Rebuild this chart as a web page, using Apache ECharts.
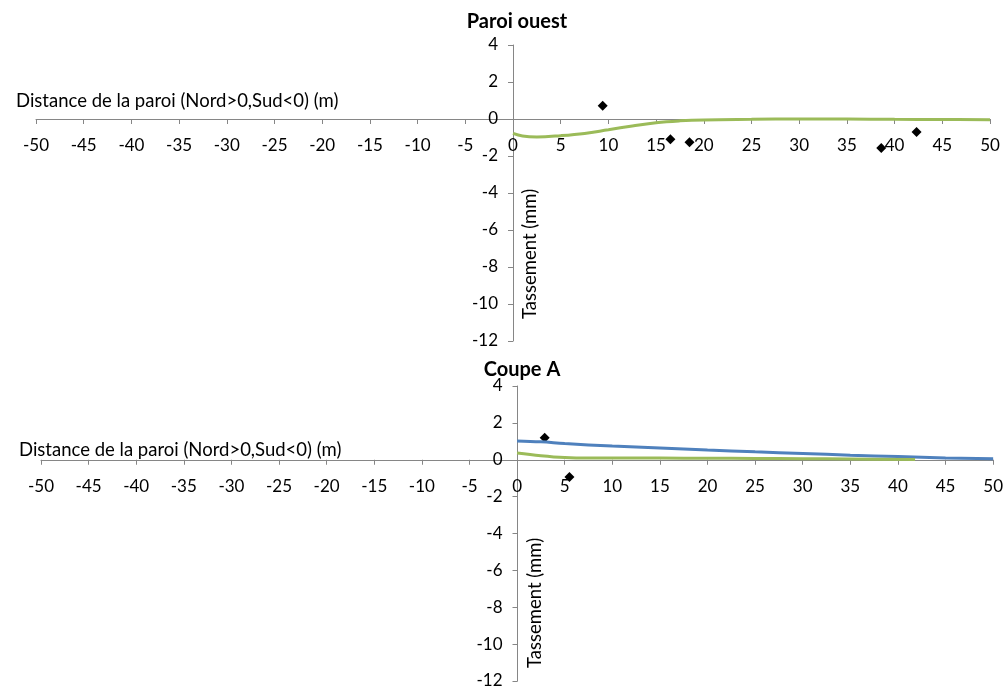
<!DOCTYPE html>
<html>
<head>
<meta charset="utf-8">
<script src="https://cdn.jsdelivr.net/npm/echarts@6/dist/echarts.min.js"></script>
<style>html,body{margin:0;padding:0;background:#fff}#c{width:1006px;height:693px}</style>
</head>
<body>
<div id="c"></div>
<script>
var xTicks = [-50, 50, 5];
var yTicks = [-12, 4, 2];
var titles = ['Paroi ouest', 'Coupe A'];
var xName = 'Distance de la paroi (Nord>0,Sud<0) (m)';
var yName = 'Tassement (mm)';

var topLineX = [0, 1, 2.5, 5, 7.5, 10, 12.5, 15, 17.5, 20, 25, 30, 35, 40, 45, 50];
var topLineY = [-0.78, -0.92, -0.97, -0.9, -0.78, -0.58, -0.38, -0.2, -0.1, -0.05, -0.02, 0, 0, -0.02, -0.03, -0.04];
var topPtsX = [9.4, 16.5, 18.5, 38.6, 42.3];
var topPtsY = [0.72, -1.1, -1.26, -1.57, -0.7];

var botBlueX = [0, 2.5, 5, 10, 15, 20, 25, 30, 35, 40, 45, 50];
var botBlueY = [1.02, 0.97, 0.88, 0.74, 0.64, 0.53, 0.43, 0.34, 0.25, 0.17, 0.1, 0.06];
var botGreenX = [0, 2.5, 5, 7.5, 10, 15, 20, 25, 30, 35, 41.8];
var botGreenY = [0.37, 0.22, 0.12, 0.09, 0.09, 0.09, 0.08, 0.07, 0.06, 0.04, 0.02];
var botPtsX = [2.9, 5.5];
var botPtsY = [1.2, -0.93];

function zip(a, b) { return a.map(function (v, i) { return [v, b[i]]; }); }

var FONT = 'Lato';
var axisLineStyle = { color: '#868686', width: 1 };

// grids
var G = [
  { left: 36, top: 45, width: 954, height: 296 },
  { left: 41, top: 386, width: 953, height: 295 }
];
function zeroOffsets(g) {
  var yZeroFromBottom = g.height * (0 - yTicks[0]) / (yTicks[1] - yTicks[0]);
  var xZeroFromLeft = g.width * (0 - xTicks[0]) / (xTicks[1] - xTicks[0]);
  return { x: -yZeroFromBottom, y: -xZeroFromLeft };
}

function xAxis(gi) {
  return {
    type: 'value', gridIndex: gi, min: xTicks[0], max: xTicks[1], interval: xTicks[2],
    position: 'bottom', offset: zeroOffsets(G[gi]).x,
    axisLine: { onZero: false, lineStyle: axisLineStyle },
    axisTick: { show: true, length: 5, lineStyle: axisLineStyle },
    axisLabel: { color: '#000', fontFamily: FONT, fontSize: 17, margin: 18 },
    splitLine: { show: false }
  };
}
function yAxis(gi) {
  return {
    type: 'value', gridIndex: gi, min: yTicks[0], max: yTicks[1], interval: yTicks[2],
    position: 'left', offset: zeroOffsets(G[gi]).y,
    axisLine: { onZero: false, lineStyle: axisLineStyle },
    axisTick: { show: true, length: 5, lineStyle: axisLineStyle },
    axisLabel: { color: '#000', fontFamily: FONT, fontSize: 17, margin: 15 },
    splitLine: { show: false }
  };
}

var green = '#9BBB59', blue = '#4F81BD';
var chart = echarts.init(document.getElementById('c'));
chart.setOption({
  animation: false,
  backgroundColor: '#fff',
  title: [
    { text: titles[0], left: 512, top: 7, textAlign: 'center', textStyle: { fontFamily: FONT, fontWeight: 'bold', fontSize: 20, color: '#000' } },
    { text: titles[1], left: 517, top: 355, textAlign: 'center', textStyle: { fontFamily: FONT, fontWeight: 'bold', fontSize: 20, color: '#000' } },
    { text: xName, left: 11, top: 87, textStyle: { fontFamily: FONT, fontWeight: 'normal', fontSize: 18.5, color: '#000' } },
    { text: xName, left: 14, top: 436, textStyle: { fontFamily: FONT, fontWeight: 'normal', fontSize: 18.5, color: '#000' } }
  ],
  graphic: [
    { type: 'text', x: 530, y: 254, rotation: Math.PI / 2, style: { text: yName, font: '18.5px Lato', fill: '#000', textAlign: 'center', textVerticalAlign: 'middle' } },
    { type: 'text', x: 535, y: 603, rotation: Math.PI / 2, style: { text: yName, font: '18.5px Lato', fill: '#000', textAlign: 'center', textVerticalAlign: 'middle' } }
  ],
  grid: G,
  xAxis: [xAxis(0), xAxis(1)],
  yAxis: [yAxis(0), yAxis(1)],
  series: [
    { type: 'line', xAxisIndex: 0, yAxisIndex: 0, data: zip(topLineX, topLineY), smooth: 0.4, showSymbol: false, lineStyle: { color: green, width: 3 } },
    { type: 'scatter', xAxisIndex: 0, yAxisIndex: 0, data: zip(topPtsX, topPtsY), symbol: 'diamond', symbolSize: 10, itemStyle: { color: '#000', opacity: 1 } },
    { type: 'line', xAxisIndex: 1, yAxisIndex: 1, data: zip(botBlueX, botBlueY), smooth: 0.4, showSymbol: false, lineStyle: { color: blue, width: 3 } },
    { type: 'line', xAxisIndex: 1, yAxisIndex: 1, data: zip(botGreenX, botGreenY), smooth: 0.4, showSymbol: false, lineStyle: { color: green, width: 3 } },
    { type: 'scatter', xAxisIndex: 1, yAxisIndex: 1, data: zip(botPtsX, botPtsY), symbol: 'diamond', symbolSize: 10, itemStyle: { color: '#000', opacity: 1 } }
  ]
});
</script>
</body>
</html>
